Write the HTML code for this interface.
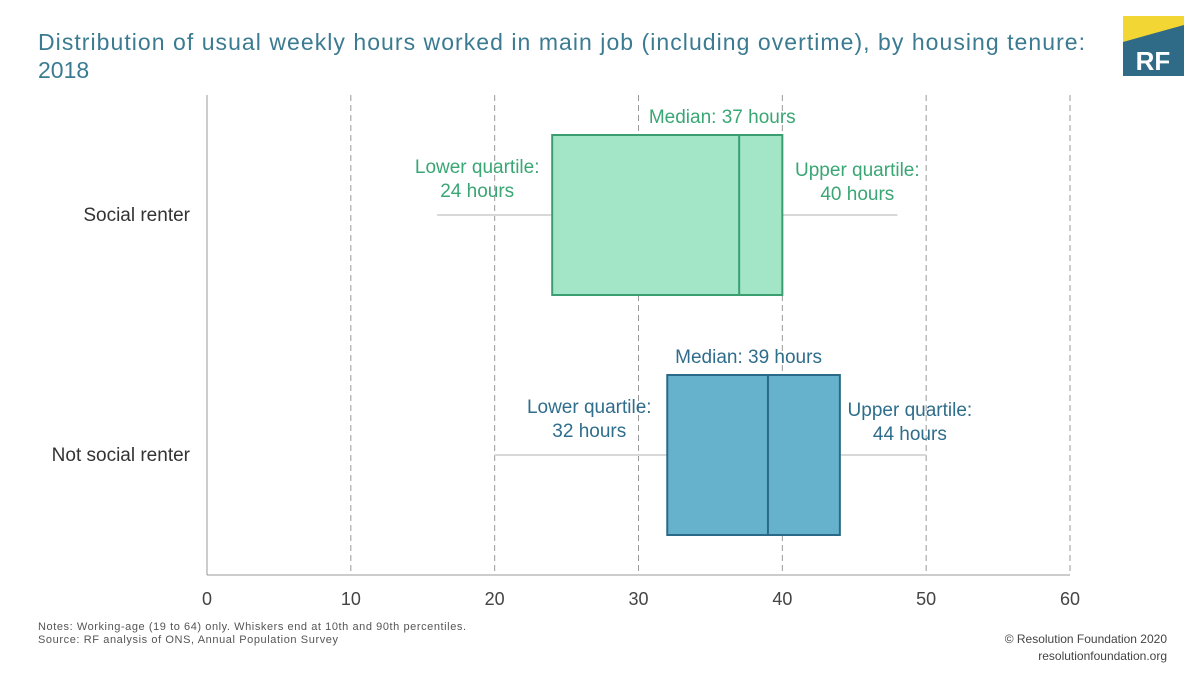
<!DOCTYPE html>
<html><head><meta charset="utf-8"><style>
body{margin:0;background:#fff;font-family:"Liberation Sans",sans-serif;}
#wrap{position:relative;width:1200px;height:675px;overflow:hidden;}
</style></head><body>
<div id="wrap">
<svg id="svg" width="1200" height="675" xmlns="http://www.w3.org/2000/svg" font-family="Liberation Sans, sans-serif">
<text x="38" y="50" font-size="23" fill="#3b7b91" textLength="1047" lengthAdjust="spacing">Distribution of usual weekly hours worked in main job (including overtime), by housing tenure:</text>
<text x="38" y="78" font-size="23" fill="#3b7b91">2018</text>
<g>
<rect x="1123" y="16" width="61" height="60" fill="#2f6a86"/>
<polygon points="1123,16 1184,16 1184,25 1123,42" fill="#f2d633"/>
<text x="1153" y="70" font-size="26" font-weight="bold" fill="#fff" text-anchor="middle">RF</text>
</g>
<g id="plot"></g>
<text x="38" y="630" font-size="11" fill="#555" textLength="428" lengthAdjust="spacing">Notes: Working-age (19 to 64) only. Whiskers end at 10th and 90th percentiles.</text>
<text x="38" y="643" font-size="11" fill="#555" textLength="300" lengthAdjust="spacing">Source: RF analysis of ONS, Annual Population Survey</text>
<text x="1167" y="643" font-size="12" fill="#444" text-anchor="end">© Resolution Foundation 2020</text>
<text x="1167" y="660" font-size="12" fill="#444" text-anchor="end">resolutionfoundation.org</text>
</svg>
</div>
<script>
const categories=["Social renter","Not social renter"];
const p10=[16,20];
const q1=[24,32];
const median=[37,39];
const q3=[40,44];
const p90=[48,50];
const ticks=[0,10,20,30,40,50,60];
const fills=["#a3e6c7","#66b2cc"];
const strokes=["#3a9e70","#2a6a88"];
const textCols=["#3aa674","#2f6d8c"];
const NS="http://www.w3.org/2000/svg";
const g=document.getElementById("plot");
const X0=207,X1=1070,Y0=95,Y1=575;
const x=v=>X0+(v-0)/(60-0)*(X1-X0);
const bandH=(Y1-Y0)/categories.length;
const yc=i=>Y0+bandH*(i+0.5);
function el(t,a,txt){const e=document.createElementNS(NS,t);for(const k in a)e.setAttribute(k,a[k]);if(txt!==undefined)e.textContent=txt;g.appendChild(e);return e;}
ticks.forEach(t=>{
 if(t>0){const l=el("line",{x1:x(t),x2:x(t),y1:Y0,y2:Y1,stroke:"#999","stroke-dasharray":"6,4","stroke-width":1});
 
 }
 const tx=el("text",{x:x(t),y:Y1+30,"font-size":18,fill:"#444","text-anchor":"middle"},String(t));
 
 
});
const ax=el("line",{x1:X0,x2:X0,y1:Y0,y2:Y1,stroke:"#999","stroke-width":1});


const bx=el("line",{x1:X0,x2:X1,y1:Y1,y2:Y1,stroke:"#999","stroke-width":1});


const medOff=[55,-5];
const lqOff=[75,78];
const uqOff=[75,70];
categories.forEach((c,i)=>{
 const cy=yc(i),h=160,top=cy-h/2;
 const w=el("line",{x1:x(p10[i]),x2:x(p90[i]),y1:cy,y2:cy,stroke:"#d8d8d8","stroke-width":2});
 
 
 const r=el("rect",{x:x(q1[i]),y:top,width:x(q3[i])-x(q1[i]),height:h,fill:fills[i],stroke:strokes[i],"stroke-width":2});
 
 
 const m=el("line",{x1:x(median[i]),x2:x(median[i]),y1:top,y2:top+h,stroke:strokes[i],"stroke-width":2});
 
 
 const lab=el("text",{x:190,y:cy+6,"font-size":19,fill:"#333","text-anchor":"end"},c);
 
 
 const fs=19,col=textCols[i];
 const mt=el("text",{x:(x(q1[i])+x(q3[i]))/2+medOff[i],y:top-12,"font-size":fs,fill:col,"text-anchor":"middle"},"Median: "+median[i]+" hours");
 
 
 const lq1=el("text",{x:x(q1[i])-lqOff[i],y:cy-42,"font-size":fs,fill:col,"text-anchor":"middle"},"Lower quartile:");
 
 
 const lq2=el("text",{x:x(q1[i])-lqOff[i],y:cy-18,"font-size":fs,fill:col,"text-anchor":"middle"},q1[i]+" hours");
 
 
 const uq1=el("text",{x:x(q3[i])+uqOff[i],y:cy-39,"font-size":fs,fill:col,"text-anchor":"middle"},"Upper quartile:");
 
 
 const uq2=el("text",{x:x(q3[i])+uqOff[i],y:cy-15,"font-size":fs,fill:col,"text-anchor":"middle"},q3[i]+" hours");
 
 
});
</script>
</body></html>
